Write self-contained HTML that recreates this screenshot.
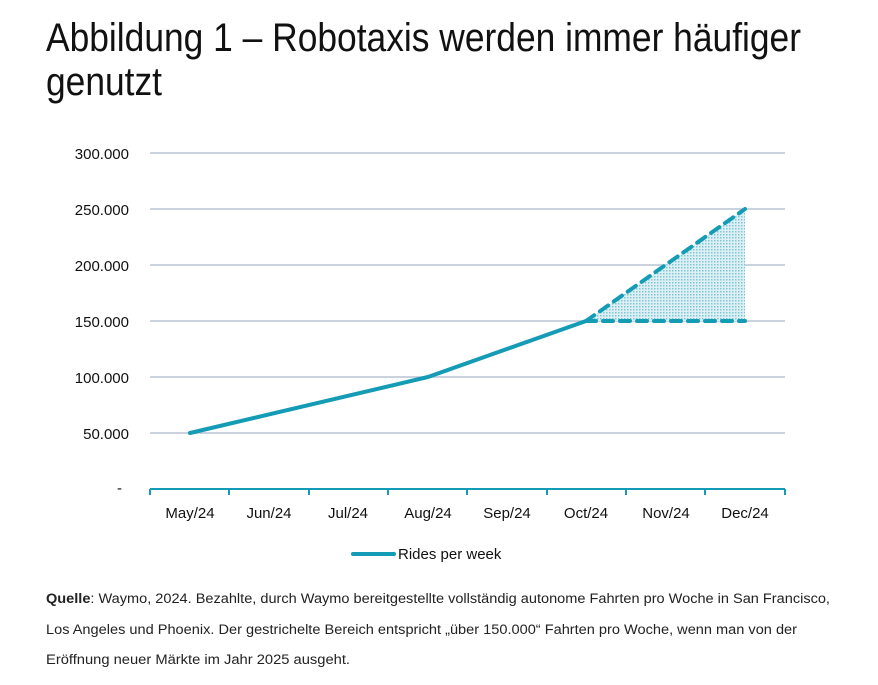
<!DOCTYPE html>
<html><head><meta charset="utf-8"><style>
html,body{margin:0;padding:0;background:#fff;}
svg{display:block;font-family:"Liberation Sans",sans-serif;}
</style></head><body>
<svg width="878" height="685" viewBox="0 0 878 685" xmlns="http://www.w3.org/2000/svg">
<defs>
<pattern id="dots" width="3" height="3" patternUnits="userSpaceOnUse">
<rect width="3" height="3" fill="#dff0f4"/>
<rect width="1.5" height="1.5" fill="#7cc6d6"/>
</pattern>
</defs>
<text x="46" y="51" font-size="40" fill="#111" textLength="755" lengthAdjust="spacingAndGlyphs">Abbildung 1 – Robotaxis werden immer häufiger</text>
<text x="46" y="95" font-size="40" fill="#111" textLength="116" lengthAdjust="spacingAndGlyphs">genutzt</text>
<g stroke="#b8c4d6" stroke-width="1.5">
<line x1="150" y1="153" x2="785" y2="153"/>
<line x1="150" y1="209" x2="785" y2="209"/>
<line x1="150" y1="265" x2="785" y2="265"/>
<line x1="150" y1="321" x2="785" y2="321"/>
<line x1="150" y1="377" x2="785" y2="377"/>
<line x1="150" y1="433" x2="785" y2="433"/>
</g>
<g font-size="15" fill="#111" text-anchor="end">
<text x="129" y="159">300.000</text>
<text x="129" y="215">250.000</text>
<text x="129" y="271">200.000</text>
<text x="129" y="327">150.000</text>
<text x="129" y="383">100.000</text>
<text x="129" y="439">50.000</text>
<text x="122" y="493">-</text>
</g>
<polygon points="586,321 745,209 745,321" fill="url(#dots)"/>
<g stroke="#149bb5" stroke-width="2">
<line x1="150" y1="489" x2="785" y2="489"/>
<line x1="150" y1="489" x2="150" y2="495"/>
<line x1="229" y1="489" x2="229" y2="495"/>
<line x1="309" y1="489" x2="309" y2="495"/>
<line x1="388" y1="489" x2="388" y2="495"/>
<line x1="467" y1="489" x2="467" y2="495"/>
<line x1="547" y1="489" x2="547" y2="495"/>
<line x1="626" y1="489" x2="626" y2="495"/>
<line x1="705" y1="489" x2="705" y2="495"/>
<line x1="785" y1="489" x2="785" y2="495"/>
</g>
<g font-size="15" fill="#111" text-anchor="middle">
<text x="190" y="518">May/24</text>
<text x="269" y="518">Jun/24</text>
<text x="348" y="518">Jul/24</text>
<text x="428" y="518">Aug/24</text>
<text x="507" y="518">Sep/24</text>
<text x="586" y="518">Oct/24</text>
<text x="666" y="518">Nov/24</text>
<text x="745" y="518">Dec/24</text>
</g>
<polyline points="190,433 428,377 586,321" fill="none" stroke="#149bb5" stroke-width="4" stroke-linecap="round" stroke-linejoin="round"/>
<line x1="586" y1="321" x2="745" y2="209" stroke="#149bb5" stroke-width="4" stroke-dasharray="10,7" stroke-linecap="round"/>
<line x1="586" y1="321" x2="745" y2="321" stroke="#149bb5" stroke-width="4" stroke-dasharray="10,7" stroke-linecap="round"/>
<line x1="353" y1="554" x2="394" y2="554" stroke="#149bb5" stroke-width="4" stroke-linecap="round"/>
<text x="398" y="559" font-size="15" fill="#111">Rides per week</text>
<g font-size="13.5" fill="#222">
<text x="46" y="603" textLength="784" lengthAdjust="spacingAndGlyphs"><tspan font-weight="bold">Quelle</tspan>: Waymo, 2024. Bezahlte, durch Waymo bereitgestellte vollständig autonome Fahrten pro Woche in San Francisco,</text>
<text x="46" y="634" textLength="751" lengthAdjust="spacingAndGlyphs">Los Angeles und Phoenix. Der gestrichelte Bereich entspricht „über 150.000“ Fahrten pro Woche, wenn man von der</text>
<text x="46" y="664" textLength="304" lengthAdjust="spacingAndGlyphs">Eröffnung neuer Märkte im Jahr 2025 ausgeht.</text>
</g>
</svg>
</body></html>
